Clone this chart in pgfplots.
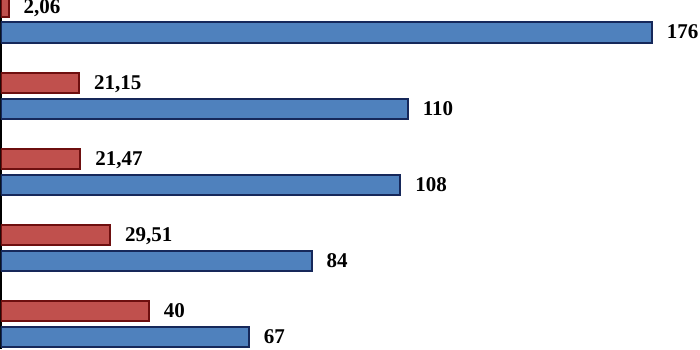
\documentclass[border=0pt]{standalone}
\usepackage{fontspec}
\setmainfont{Liberation Serif}
\usepackage{pgfplots}
\pgfplotsset{compat=1.18}
\definecolor{redfill}{RGB}{192,80,77}
\definecolor{rededge}{RGB}{110,15,15}
\definecolor{bluefill}{RGB}{79,129,189}
\definecolor{blueedge}{RGB}{22,40,90}
\begin{document}
\begin{tikzpicture}
\begin{axis}[
  at={(0.5pt,0pt)}, anchor=south west,
  scale only axis, width=349.5pt, height=174.5pt,
  xmin=0, xmax=189.0,
  y dir=reverse, ymin=-0.427, ymax=4.159,
  axis x line=none, axis y line*=left,
  y axis line style={black, line width=0.8pt},
  xtick=\empty, ytick=\empty,
  xbar, bar shift=0pt, bar width=0.263,
  nodes near coords,
  /pgf/number format/.cd, use comma, fixed, precision=2, assume math mode=true,
  /pgfplots/.cd,
  every node near coord/.append style={anchor=west, inner xsep=0pt, xshift=7pt,
    font=\fontsize{10.5}{12}\selectfont\bfseries, text=black, text height=1.4ex, text depth=0pt},
]
\addplot[fill=bluefill, draw=blueedge, line width=1pt] coordinates {
  (176,0) (110,1) (108,2) (84,3) (67,4)};
\addplot[fill=redfill, draw=rededge, line width=1pt] coordinates {
  (2.06,-0.335) (21.15,0.665) (21.47,1.665) (29.51,2.665) (40,3.665)};
\end{axis}
\pgfresetboundingbox
\path[use as bounding box] (0,0) rectangle (350pt,174.5pt);
\end{tikzpicture}
\end{document}
